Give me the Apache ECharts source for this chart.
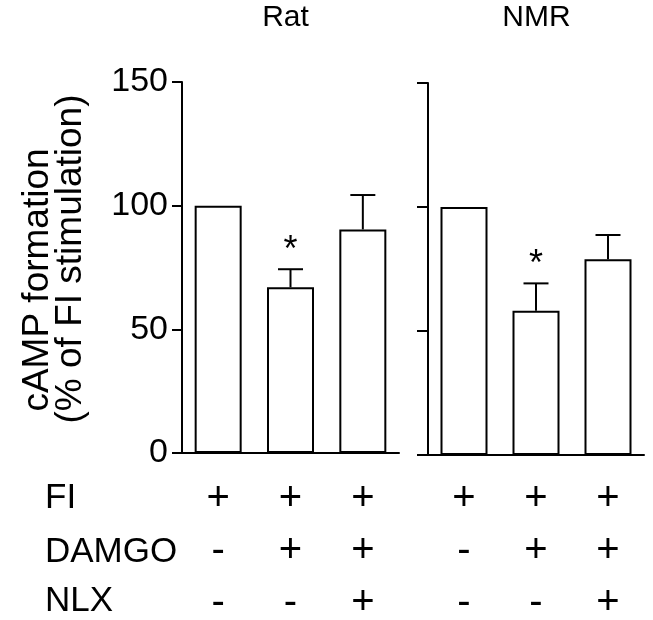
<!DOCTYPE html>
<html>
<head>
<meta charset="utf-8">
<script src="https://cdn.jsdelivr.net/npm/echarts@6/dist/echarts.min.js"></script>
<style>
html,body{margin:0;padding:0;background:#fff;}
#chart{width:653px;height:620px;}
</style>
</head>
<body>
<div id="chart"></div>
<script>
// ---- data ----
var categories = ['FI', 'FI+DAMGO', 'FI+DAMGO+NLX'];
var panelTitles = ['Rat', 'NMR'];
var ratMean = [100, 67.0, 90.4];
var ratErr = [0, 7.3, 13.9];
var nmrMean = [100, 58.2, 78.9];
var nmrErr = [0, 11.0, 9.8];
var ratStars = ['', '*', ''];
var nmrStars = ['', '*', ''];
var rowLabels = ['FI', 'DAMGO', 'NLX'];
var rowFI = ['+', '+', '+'];
var rowDAMGO = ['-', '+', '+'];
var rowNLX = ['-', '-', '+'];
var yTicks = [0, 50, 100, 150];
var yTitleLines = ['cAMP formation', '(% of FI stimulation)'];

var FONT = "'Liberation Sans', Arial, Helvetica, sans-serif";
var chart = echarts.init(document.getElementById('chart'), null, {renderer: 'canvas'});

function yAxisCfg(gridIndex, showLabels, tickLen) {
  return {
    type: 'value', gridIndex: gridIndex,
    min: yTicks[0], max: yTicks[yTicks.length - 1], interval: yTicks[1] - yTicks[0],
    axisLine: {show: true, lineStyle: {color: '#000', width: 2}},
    axisTick: {show: true, inside: false, length: tickLen, lineStyle: {color: '#000', width: 2}},
    axisLabel: {show: showLabels, color: '#000', fontSize: 34, fontFamily: FONT, margin: 14},
    splitLine: {show: false}
  };
}
function xAxisCfg(gridIndex, margin) {
  return {
    type: 'category', gridIndex: gridIndex, data: categories,
    axisLine: {show: true, onZero: false, lineStyle: {color: '#000', width: 2}},
    axisTick: {show: false},
    axisLabel: {
      interval: 0, margin: margin, color: '#000', fontSize: 40, fontFamily: FONT, lineHeight: 52,
      formatter: function (v, i) { return [rowFI[i], rowDAMGO[i], rowNLX[i]].join('\n'); }
    },
    splitLine: {show: false}
  };
}
function errData(mean, err) {
  return mean.map(function (m, i) { return [i, m, err[i]]; });
}
function errSeries(idx, mean, err, stars) {
  return {
    type: 'custom', xAxisIndex: idx, yAxisIndex: idx, z: 5,
    encode: {x: 0, y: 1},
    data: errData(mean, err),
    renderItem: function (params, api) {
      var i = api.value(0), m = api.value(1), e = api.value(2);
      var children = [];
      var p0 = api.coord([i, m]);
      var p1 = api.coord([i, m + e]);
      if (e > 0) {
        children.push({type: 'line', shape: {x1: p0[0], y1: p0[1], x2: p1[0], y2: p1[1]},
          style: {stroke: '#000', lineWidth: 2}});
        children.push({type: 'line', shape: {x1: p1[0] - 12.5, y1: p1[1], x2: p1[0] + 12.5, y2: p1[1]},
          style: {stroke: '#000', lineWidth: 2}});
      }
      var s = stars[params.dataIndex];
      if (s) {
        children.push({type: 'text', style: {text: s, x: p1[0], y: p1[1] - 18.5, align: 'center',
          verticalAlign: 'middle', fontSize: 36, fontFamily: FONT, fill: '#000'}});
      }
      return {type: 'group', children: children};
    }
  };
}
function barSeries(idx, mean) {
  return {
    type: 'bar', xAxisIndex: idx, yAxisIndex: idx, data: mean, barWidth: 47,
    itemStyle: {color: '#fff', borderColor: '#000', borderWidth: 2},
    silent: true, animation: false
  };
}

var graphics = [
  {type: 'text', x: 285.5, y: 17.5, style: {text: panelTitles[0], align: 'center', verticalAlign: 'middle', fontSize: 30, fontFamily: FONT, fill: '#000'}},
  {type: 'text', x: 536.5, y: 17.5, style: {text: panelTitles[1], align: 'center', verticalAlign: 'middle', fontSize: 30, fontFamily: FONT, fill: '#000'}},
  {type: 'text', x: 38, y: 280, rotation: Math.PI / 2, style: {text: yTitleLines[0], align: 'center', verticalAlign: 'middle', fontSize: 37, fontFamily: FONT, fill: '#000'}},
  {type: 'text', x: 71, y: 259, rotation: Math.PI / 2, style: {text: yTitleLines[1], align: 'center', verticalAlign: 'middle', fontSize: 37, fontFamily: FONT, fill: '#000'}}
];
var rowY = [498, 552, 601];
rowLabels.forEach(function (t, k) {
  graphics.push({type: 'text', x: 45, y: rowY[k], style: {text: t, align: 'left', verticalAlign: 'middle', fontSize: 35, fontFamily: FONT, fill: '#000'}});
});

chart.setOption({
  animation: false,
  backgroundColor: '#fff',
  grid: [
    {left: 182, top: 82, width: 217, height: 371, containLabel: false, outerBoundsMode: 'none'},
    {left: 428, top: 83, width: 216, height: 372, containLabel: false, outerBoundsMode: 'none'}
  ],
  xAxis: [xAxisCfg(0, 20), xAxisCfg(1, 18)],
  yAxis: [yAxisCfg(0, true, 10), yAxisCfg(1, false, 11)],
  series: [
    barSeries(0, ratMean), errSeries(0, ratMean, ratErr, ratStars),
    barSeries(1, nmrMean), errSeries(1, nmrMean, nmrErr, nmrStars)
  ],
  graphic: graphics
});
</script>
</body>
</html>
